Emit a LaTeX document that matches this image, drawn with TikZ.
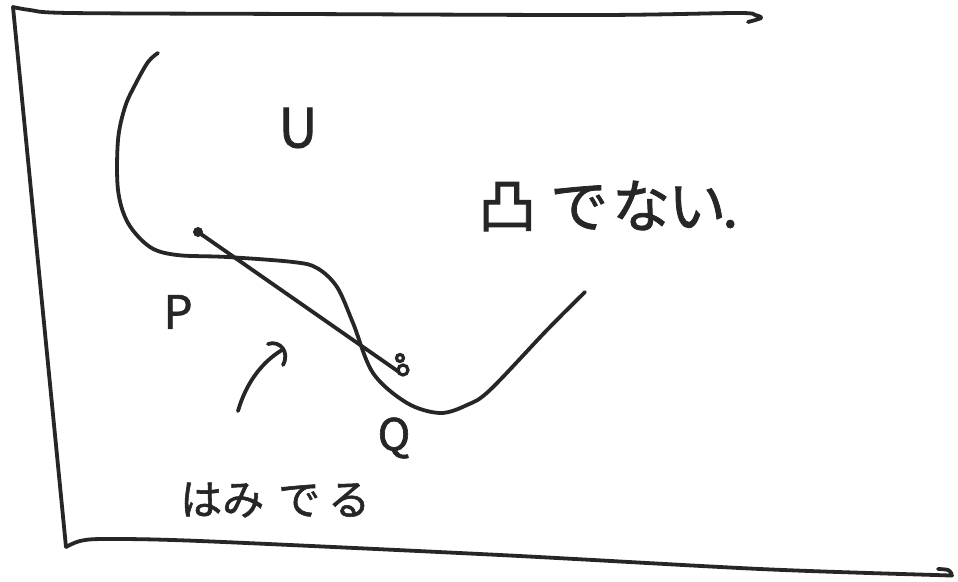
\documentclass[tikz,border=0pt]{standalone}
\usepackage{fontspec}
\newfontfamily\jp[AutoFakeBold=1.4]{Noto Sans CJK JP}
\begin{document}
\begin{tikzpicture}[x=1pt,y=-1pt,
  pen/.style={line width=3.8pt,line cap=round,line join=round,black!85},
  jptext/.style={inner sep=0pt,font=\jp\bfseries\fontsize{#1}{#1}\selectfont,text=black!85},
  jptext/.default=50]
\useasboundingbox[fill=white] (0,0) rectangle (958,581);
% frame
\draw[pen] plot[smooth,tension=0.5] coordinates {(13,7) (30,10) (70,13) (300,14) (600,15) (737,13) (755,15) (761,18) (748,22)};
\draw[pen] (13,7) -- (66,547);
\draw[pen] plot[smooth,tension=0.5] coordinates {(66,547) (80,541) (105,539) (200,541) (500,555) (760,569) (935,575) (951,575) (948,570) (938,569)};
% curve
\draw[pen] plot[smooth,tension=0.55] coordinates {(158,53) (148,62) (135,85) (125,107) (118,140) (118,190) (128,223) (150,247) (177,255) (227,257) (293,262) (317,268) (337,287) (353,323) (373,373) (407,403) (440,413) (467,405) (490,390) (547,330) (585,292)};
% points
\coordinate (P) at (198,232);
\coordinate (Q) at (399,372);
\draw[pen] (P) -- (Q);
\fill[black!85] (P) circle (5pt);
\draw[line width=3.2pt,black!85] (400,358) circle (3.5pt) (403,370) circle (5pt);
% labels
\node[jptext=46] (Plab) at (178,312) {P};
\node[jptext=44] (Qlab) at (394,438) {Q};
\node[jptext=54] (Ulab) at (298,128) {U};
\node[jptext=58,anchor=west] (notconvex) at (478,206) {凸\hspace{14pt}で\hspace{4pt}な\hspace{-2pt}い\hspace{-4pt}.};
\node[jptext=42,anchor=west] (hamideru) at (180,500) {はみ\hspace{14pt}で\hspace{8pt}る};
% arrow
\coordinate (A0) at (238,411);
\coordinate (A1) at (282,350);
\coordinate (H0) at (268,344);
\coordinate (H1) at (283,365);
\draw[pen] (A0) .. controls (246,383) and (262,362) .. (A1);
\draw[pen] (H0) .. controls (280,340) and (290,352) .. (H1);
\end{tikzpicture}
\end{document}
